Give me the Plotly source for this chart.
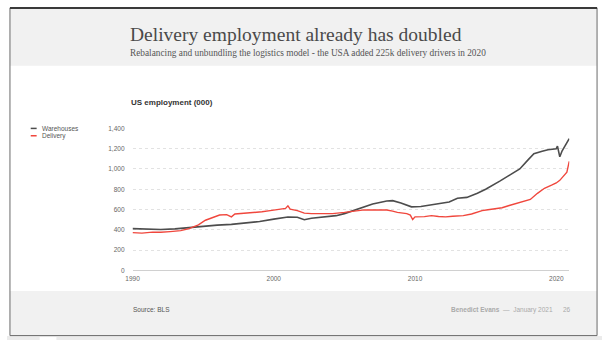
import plotly.graph_objects as go

# US employment, thousands (BLS)
wh_dates = ["1990-01", "1991-01", "1992-01", "1993-01", "1994-01", "1995-01", "1996-01",
            "1997-01", "1998-01", "1999-01", "2000-01", "2001-01", "2001-09", "2002-03",
            "2002-09", "2003-06", "2004-06", "2005-01", "2006-01", "2007-01", "2008-01",
            "2008-06", "2009-01", "2009-10", "2010-06", "2011-06", "2012-06", "2013-01",
            "2013-09", "2014-06", "2015-01", "2016-01", "2017-01", "2017-06", "2018-01",
            "2018-06", "2019-01", "2019-06", "2020-01", "2020-02", "2020-04", "2020-06",
            "2020-12"]
warehouses = [412, 410, 404, 410, 422, 438, 447,
              454, 465, 482, 506, 526, 524, 500,
              515, 527, 540, 560, 610, 655, 685,
              688, 665, 627, 630, 650, 675, 711,
              720, 760, 800, 880, 960, 1000, 1090,
              1150, 1175, 1190, 1200, 1226, 1120, 1180,
              1300]

dl_dates = ["1990-01", "1990-09", "1991-06", "1992-01", "1992-09", "1993-06", "1994-01",
            "1994-09", "1995-03", "1995-09", "1996-03", "1996-09", "1997-01", "1997-04",
            "1997-10", "1998-06", "1999-03", "1999-10", "2000-06", "2000-11", "2001-01",
            "2001-03", "2001-09", "2002-03", "2002-09", "2003-06", "2004-03", "2005-01",
            "2005-09", "2006-06", "2007-03", "2008-01", "2008-06", "2008-10", "2009-06",
            "2009-09", "2009-11", "2010-01", "2010-09", "2011-03", "2011-09", "2012-03",
            "2012-09", "2013-06", "2014-01", "2014-06", "2014-10", "2015-03", "2015-09",
            "2016-03", "2016-09", "2017-03", "2017-09", "2018-03", "2018-09", "2019-03",
            "2019-09", "2020-01", "2020-04", "2020-08", "2020-10", "2020-12"]
delivery = [373, 368, 378, 376, 383, 392, 412,
            450, 495, 520, 546, 550, 528, 556,
            560, 566, 578, 590, 600, 612, 637,
            605, 590, 565, 560, 557, 560, 572,
            583, 597, 596, 596, 585, 572, 560,
            545, 502, 528, 531, 540, 532, 528,
            534, 540, 556, 575, 590, 598, 605,
            618, 640, 660, 680, 700, 760, 810,
            840, 862, 888, 936, 969, 1075]

series_names = ["Warehouses", "Delivery"]
series_colors = ["#4d4d4d", "#f0473d"]
y_ticks = [0, 200, 400, 600, 800, 1000, 1200, 1400]
x_ticks = ["1990-01-01", "2000-01-01", "2010-01-01", "2020-01-01"]
x_labels = ["1990", "2000", "2010", "2020"]

W, H = 602, 343


def px(x):
    return x / W


def py(y):
    return 1 - y / H


fig = go.Figure()
fig.add_trace(go.Scatter(x=wh_dates, y=warehouses, mode="lines", name=series_names[0],
                         line=dict(color=series_colors[0], width=1.6), showlegend=False))
fig.add_trace(go.Scatter(x=dl_dates, y=delivery, mode="lines", name=series_names[1],
                         line=dict(color=series_colors[1], width=1.4), showlegend=False))

shapes = [
    # strip under the slide
    dict(type="rect", xref="paper", yref="paper", x0=0, x1=1, y0=0, y1=py(339),
         fillcolor="#ebebeb", line_width=0, layer="below"),
    dict(type="rect", xref="paper", yref="paper", x0=px(33), x1=px(50), y0=0, y1=py(340),
         fillcolor="#ffffff", line_width=0, layer="below"),
    # header band
    dict(type="rect", xref="paper", yref="paper", x0=px(3), x1=px(597), y0=py(63), y1=py(4),
         fillcolor="#f1f1f1", line_width=0, layer="below"),
    # footer band
    dict(type="rect", xref="paper", yref="paper", x0=px(3), x1=px(597), y0=py(338), y1=py(293),
         fillcolor="#f1f1f1", line_width=0, layer="below"),
    # slide frame
    dict(type="rect", xref="paper", yref="paper", x0=px(3), x1=px(597), y0=py(338.5), y1=py(4),
         fillcolor="rgba(0,0,0,0)", line=dict(color="#6a6a6a", width=1)),
    dict(type="line", xref="paper", yref="paper", x0=px(3), x1=px(597), y0=py(4), y1=py(4),
         line=dict(color="#3a3a3a", width=2)),
]

# legend keys
for i, (name, col) in enumerate(zip(series_names, series_colors)):
    yy = 127 + i * 7.5
    shapes.append(dict(type="line", xref="paper", yref="paper", x0=px(24), x1=px(30),
                       y0=py(yy), y1=py(yy), line=dict(color=col, width=1.5)))

annotations = [
    dict(text="Delivery employment already has doubled", x=px(122), y=py(31),
         xanchor="left", yanchor="middle",
         font=dict(family="Liberation Serif", size=19.5, color="#4a4a4a")),
    dict(text="Rebalancing and unbundling the logistics model - the USA added 225k delivery drivers in 2020",
         x=px(122), y=py(50), xanchor="left", yanchor="middle",
         font=dict(family="Liberation Serif", size=9.3, color="#555555")),
    dict(text="<b>US employment (000)</b>", x=px(123), y=py(101), xanchor="left", yanchor="middle",
         font=dict(family="Liberation Sans", size=8, color="#333333")),
    dict(text="Source: BLS", x=px(125), y=py(312), xanchor="left", yanchor="middle",
         font=dict(family="Liberation Sans", size=6.5, color="#555555")),
    dict(text="<b>Benedict Evans</b>  —  January 2021", x=px(447), y=py(312),
         xanchor="left", yanchor="middle",
         font=dict(family="Liberation Sans", size=6.5, color="#aaaaaa")),
    dict(text="26", x=px(561), y=py(312), xanchor="left", yanchor="middle",
         font=dict(family="Liberation Sans", size=6.5, color="#aaaaaa")),
]
for i, name in enumerate(series_names):
    annotations.append(dict(text=name, x=px(33), y=py(127 + i * 7.5), xanchor="left",
                            yanchor="middle",
                            font=dict(family="Liberation Sans", size=6.5, color="#555555")))
for a in annotations:
    a.update(xref="paper", yref="paper", showarrow=False)

fig.update_layout(
    width=W, height=H, margin=dict(l=0, r=0, t=0, b=0),
    paper_bgcolor="#ffffff", plot_bgcolor="rgba(0,0,0,0)",
    shapes=shapes, annotations=annotations, showlegend=False,
    xaxis=dict(domain=[px(127), px(569)], type="date",
               range=["1990-01-01", "2020-12-05"],
               tickvals=x_ticks, ticktext=x_labels, showgrid=False, zeroline=False,
               showline=True, linecolor="#d0d0d0", linewidth=1, ticks="",
               ticklabelstandoff=2,
               tickfont=dict(family="Liberation Sans", size=6.5, color="#666666")),
    yaxis=dict(domain=[py(272), py(127)], range=[0, 1400], tickvals=y_ticks,
               tickformat=",", showgrid=True, gridcolor="#e2e2e2", griddash="dot",
               gridwidth=1, zeroline=False, showline=False, ticks="",
               ticklabelstandoff=7,
               tickfont=dict(family="Liberation Sans", size=6.5, color="#666666")),
)

fig.write_html("out.html")
